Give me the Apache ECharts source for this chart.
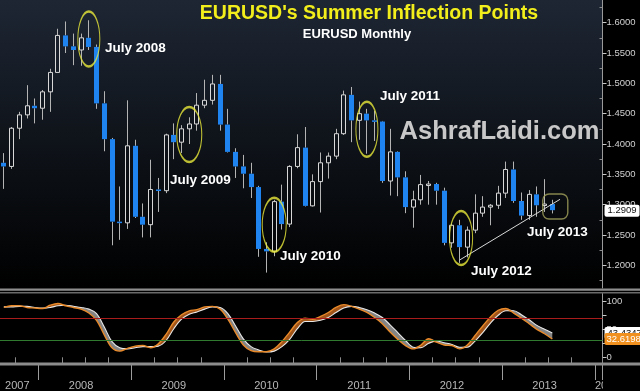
<!DOCTYPE html>
<html><head><meta charset="utf-8">
<script src="https://cdn.jsdelivr.net/npm/echarts@6.0.0/dist/echarts.min.js"></script>
<style>html,body{margin:0;padding:0;background:#000;}#chart{width:640px;height:391px;}</style>
</head><body><div id="chart"></div>
<script>
// ---------- DATA ----------
// Monthly categories: Aug 2007 .. Jan 2014 (last months blank)
const months = [];
(function(){ let y = 2007, m = 8; while (months.length < 78) { months.push(y + '-' + String(m).padStart(2,'0')); m++; if (m > 12) { m = 1; y++; } } })();

// EURUSD monthly OHLC, Aug 2007 .. Jul 2013
const open  = [1.3690,1.3630,1.4260,1.4480,1.4630, 1.4590,1.4860,1.5180,1.5790,1.5610,1.5550,1.5750,1.5600,1.4670,1.4080,1.2720,1.2700,
               1.3970,1.2800,1.2670,1.3250,1.3230,1.4150,1.4030,1.4250,1.4330,1.4640,1.4720,1.4990,
               1.4320,1.3870,1.3630,1.3510,1.3290,1.2270,1.2230,1.3050,1.2680,1.3630,1.3940,1.2980,
               1.3380,1.3690,1.3800,1.4170,1.4810,1.4390,1.4500,1.4390,1.4370,1.3390,1.3870,1.3450,
               1.2960,1.3080,1.3330,1.3340,1.3230,1.2370,1.2660,1.2300,1.2580,1.2860,1.2960,1.2990,
               1.3190,1.3580,1.3060,1.2820,1.3170,1.2990,1.3010];
const high  = [1.3850,1.4280,1.4530,1.4970,1.4750, 1.4890,1.5240,1.5900,1.6020,1.5820,1.5820,1.6040,1.5640,1.4870,1.4100,1.3300,1.4720,
               1.4070,1.3020,1.3740,1.3440,1.4170,1.4340,1.4310,1.4440,1.4840,1.5060,1.5140,1.5140,
               1.4580,1.3930,1.3820,1.3690,1.3310,1.2380,1.3080,1.3330,1.3650,1.4160,1.4280,1.3500,
               1.3860,1.3860,1.4250,1.4880,1.4940,1.4700,1.4580,1.4550,1.4380,1.4250,1.3880,1.3550,
               1.3230,1.3490,1.3390,1.3360,1.3280,1.2690,1.2750,1.2640,1.3170,1.3140,1.3010,1.3310,
               1.3710,1.3710,1.3200,1.3240,1.3300,1.3420,1.3080];
const low   = [1.3260,1.3590,1.4080,1.4420,1.4340, 1.4400,1.4530,1.5180,1.5500,1.5300,1.5290,1.5550,1.4580,1.3880,1.2330,1.2420,1.2600,
               1.2780,1.2460,1.2460,1.2880,1.3190,1.3750,1.3850,1.4000,1.4220,1.4590,1.4650,1.4220,
               1.3860,1.3440,1.3270,1.3110,1.2140,1.1880,1.2150,1.2590,1.2630,1.3600,1.2970,1.2970,
               1.2870,1.3430,1.3750,1.4150,1.4030,1.4070,1.3840,1.4050,1.3360,1.3150,1.3140,1.2860,
               1.2620,1.3000,1.3000,1.3000,1.2330,1.2290,1.2040,1.2130,1.2530,1.2800,1.2660,1.2930,
               1.3110,1.3030,1.2750,1.2750,1.2800,1.2880,1.2855];
const close = [1.3630,1.4260,1.4480,1.4630,1.4590, 1.4860,1.5180,1.5790,1.5610,1.5550,1.5750,1.5600,1.4670,1.4080,1.2720,1.2700,1.3970,
               1.2800,1.2670,1.3250,1.3230,1.4150,1.4030,1.4250,1.4330,1.4640,1.4720,1.4990,1.4320,
               1.3870,1.3630,1.3510,1.3290,1.2270,1.2230,1.3050,1.2680,1.3630,1.3940,1.2980,1.3380,
               1.3690,1.3800,1.4170,1.4810,1.4390,1.4500,1.4390,1.4370,1.3390,1.3870,1.3450,1.2960,
               1.3080,1.3330,1.3340,1.3230,1.2370,1.2660,1.2300,1.2580,1.2860,1.2960,1.2990,1.3190,
               1.3580,1.3060,1.2820,1.3170,1.2990,1.3010,1.2909];
const lastPrice = 1.2909;

// Stochastic oscillator (fast = orange, slow = white)
const stochK = [89,92,92,89,88,87,93,96,92,89, 86,79,66,40,17,11,16,20,21,17, 24,41,63,76,83,85,90,91,86,68,
                44,22,12,10,10,15,28,45,62,70, 68,73,80,89,94,91,86,80,71,60, 45,32,21,15,22,33,27,22,21,15,
                22,39,56,72,84,87,79,70,60,50, 42,32.6198];
const stochD = [90,90,91,91,89,88,89,92,93,91, 89,86,78,54,28,17,15,17,19,19, 20,30,51,68,77,81,86,90,89,78,
                56,33,19,13,9.5,11,19,32,51,64, 64,66,71,80,88,91,89,85,79,71, 58,44,30,18,17,25,29,26,23,18,
                18,29,44,61,75,83,83,76,67,57, 50,43.4347];
const stochLevels = [70, 30];

// Axis ticks / labels
const priceTicks = [1.20,1.25,1.30,1.35,1.40,1.45,1.50,1.55,1.60];
const priceMinorTicks = [1.175,1.225,1.275,1.325,1.375,1.425,1.475,1.525,1.575,1.625];
const stochTicks = [0,25,50,75,100];
const stochLabels = [0,50,100];
const yearLabels = ['2007','2008','2009','2010','2011','2012','2013','2014'];
const yearLabelCats = ['2007-10','2008-06','2009-06','2010-06','2011-06','2012-06','2013-06','2014-01'];

// Annotations (ellipses around July candles)
const ellipseCats = ['2008-07','2009-08','2010-07','2011-07','2012-07'];
const ellipsePrices = [1.5731,1.4157,1.2669,1.4244,1.2450];
const ellipseSizes = [[22,55],[25,55],[24,54],[22,55],[23,54]];
const trendCats = ['2012-07','2013-08'];
const trendPrices = [1.2087,1.3088];
const boxCat = '2013-07', boxPrice = 1.2969;

// ---------- CHART ----------
const chart = echarts.init(document.getElementById('chart'), null, {renderer:'canvas'});
const candleData = open.map((o,i)=>[i, o, close[i], low[i], high[i]]);
const bandBase = stochK.map((k,i)=>Math.min(k, stochD[i]));
const bandUp = stochK.map((k,i)=>Math.max(k - stochD[i], 0));
const bandDown = stochK.map((k,i)=>Math.max(stochD[i] - k, 0));

function renderCandle(params, api){
  const i = api.value(0);
  const o = api.value(1), c = api.value(2), l = api.value(3), h = api.value(4);
  const pO = api.coord([i,o]), pC = api.coord([i,c]), pL = api.coord([i,l]), pH = api.coord([i,h]);
  const n = Math.round(pO[0] - 0.5);
  const cx = n + 0.5;
  const top = Math.min(pO[1], pC[1]);
  const hgt = Math.max(Math.abs(pO[1]-pC[1]), 1.5);
  const up = c >= o;
  const wick = '#b4b4b4';
  return {type:'group', children:[
    {type:'line', shape:{x1:cx,y1:pH[1],x2:cx,y2:top}, style:{stroke:wick,lineWidth:1}},
    {type:'line', shape:{x1:cx,y1:top+hgt,x2:cx,y2:pL[1]}, style:{stroke:wick,lineWidth:1}},
    up ? {type:'rect', shape:{x:n-1.5,y:top,width:4,height:hgt}, style:{fill:'rgba(0,0,0,0)',stroke:'#d8d8d8',lineWidth:1}}
       : {type:'rect', shape:{x:n-2,y:top,width:5,height:hgt}, style:{fill:'#1f84f0'}}
  ]};
}

const FONT = '"Liberation Sans", Arial, sans-serif';
const NARROW = '"Liberation Sans Narrow", "Liberation Sans", Arial, sans-serif';
const option = {
  backgroundColor:'#000',
  animation:false,
  grid:[
    {left:0, top:0, width:602.5, height:288, show:true, borderWidth:0,
     backgroundColor:{type:'linear',x:0,y:0,x2:0,y2:1,colorStops:[{offset:0,color:'#1e2634'},{offset:0.45,color:'#10151c'},{offset:1,color:'#000000'}]}},
    {left:0, top:293.5, width:602.5, height:70.5, show:true, borderWidth:0, backgroundColor:'#000'}
  ],
  xAxis:[
    {type:'category', gridIndex:0, data:months, boundaryGap:true, show:false},
    {type:'category', gridIndex:1, data:months, boundaryGap:true, position:'bottom',
     axisLine:{show:false},
     axisTick:{show:true, length:6, interval:(i,v)=>['04','07','10'].includes(v.slice(5)), lineStyle:{color:'#8a8a8a'}},
     axisLabel:{show:false}},
    {type:'category', gridIndex:1, data:months, boundaryGap:true, position:'bottom',
     axisLine:{show:false},
     axisTick:{show:true, length:16, interval:(i,v)=>v.slice(5)==='01', lineStyle:{color:'#9c9c9c'}},
     axisLabel:{show:true, interval:(i,v)=>yearLabelCats.includes(v), margin:16, color:'#b8b8b8', fontSize:11, fontFamily:NARROW,
       formatter:(v)=>{const k=yearLabelCats.indexOf(v); if(k<0) return ''; if(v==='2007-10') return '{a|'+yearLabels[k]+'}'; if(v==='2014-01') return '{b|'+yearLabels[k]+'}'; return yearLabels[k];},
       rich:{a:{padding:[0,4,0,0],color:'#b8b8b8',fontSize:11,fontFamily:NARROW},
             b:{padding:[0,0,0,17],color:'#b8b8b8',fontSize:11,fontFamily:NARROW}}}}
  ],
  yAxis:[
    {type:'value', gridIndex:0, position:'right', min:1.1626, max:1.6374, splitLine:{show:false},
     axisLine:{show:true, lineStyle:{color:'#9a9a9a'}},
     axisTick:{show:true, length:4, customValues:priceTicks, lineStyle:{color:'#c8c8c8'}},
     axisLabel:{show:true, customValues:priceTicks, margin:4, color:'#d0d0d0', fontSize:9.5, fontFamily:FONT, formatter:(v)=>v.toFixed(4)}},
    {type:'value', gridIndex:0, position:'right', min:1.1626, max:1.6374, splitLine:{show:false},
     axisLine:{show:false},
     axisTick:{show:true, inside:true, length:3, customValues:priceMinorTicks, lineStyle:{color:'#8a8a8a'}},
     axisLabel:{show:false}},
    {type:'value', gridIndex:1, position:'right', min:-11.96, max:113.9, splitLine:{show:false},
     axisLine:{show:true, lineStyle:{color:'#9a9a9a'}},
     axisTick:{show:true, length:4, customValues:stochTicks, lineStyle:{color:'#c8c8c8'}},
     axisLabel:{show:true, customValues:stochLabels, margin:4, color:'#d0d0d0', fontSize:9.5, fontFamily:FONT}}
  ],
  series:[
    {type:'custom', name:'EURUSD', xAxisIndex:0, yAxisIndex:0, renderItem:renderCandle, data:candleData,
     encode:{x:0, y:[1,2,3,4]}, clip:true, z:3},
    {type:'scatter', name:'circles', xAxisIndex:0, yAxisIndex:0, z:5, silent:true,
     data:ellipseCats.map((c,i)=>({value:[c, ellipsePrices[i]], symbolSize:ellipseSizes[i], symbolOffset:[i===4?1.5:0,0]})),
     symbol:'circle', itemStyle:{color:'rgba(0,0,0,0)', borderColor:'#e8e83a', borderWidth:1.6}},
    {type:'scatter', name:'box', xAxisIndex:0, yAxisIndex:0, z:5, silent:true,
     data:[{value:[boxCat, boxPrice]}], symbol:'roundRect', symbolSize:[25,25], symbolOffset:[3,0],
     itemStyle:{color:'rgba(0,0,0,0)', borderColor:'#a4a45c', borderWidth:1.4}},
    {type:'line', name:'trend', xAxisIndex:0, yAxisIndex:0, z:4, silent:true, symbol:'none',
     data:trendCats.map((c,i)=>[c, trendPrices[i]]), lineStyle:{color:'#d8d8d8', width:1},
     markLine:{silent:true, symbol:'none', data:[{yAxis:lastPrice}], lineStyle:{color:'rgba(0,0,0,0)', width:0},
       label:{show:true, position:'end', distance:2, formatter:lastPrice.toFixed(4), backgroundColor:'#ffffff', color:'#111',
              fontSize:9.5, fontFamily:FONT, padding:[1,3,1,3], borderRadius:2}}},
    {type:'line', name:'base', xAxisIndex:1, yAxisIndex:2, stack:'band', data:bandBase, symbol:'none', smooth:0.35,
     lineStyle:{opacity:0}, z:1,
     markLine:{silent:true, symbol:'none', label:{show:false},
       data:[{yAxis:stochLevels[0], lineStyle:{color:'#a81c1c', width:1, type:'solid'}},
             {yAxis:stochLevels[1], lineStyle:{color:'#2f7a2f', width:1, type:'solid'}}]}},
    {type:'line', name:'up', xAxisIndex:1, yAxisIndex:2, stack:'band', data:bandUp, symbol:'none', smooth:0.35,
     lineStyle:{opacity:0}, areaStyle:{color:'#b25e1c', opacity:0.9}, z:2},
    {type:'line', name:'down', xAxisIndex:1, yAxisIndex:2, stack:'band', data:bandDown, symbol:'none', smooth:0.35,
     lineStyle:{opacity:0}, areaStyle:{color:'#929292', opacity:0.9}, z:2},
    {type:'line', name:'slow', xAxisIndex:1, yAxisIndex:2, data:stochD, symbol:'none', smooth:0.35, z:3,
     lineStyle:{color:'#e8e8e8', width:1.1},
     markLine:{silent:true, symbol:'none', data:[{yAxis:stochD[stochD.length-1]}], lineStyle:{color:'rgba(0,0,0,0)', width:0},
       label:{show:true, position:'end', distance:2, formatter:stochD[stochD.length-1].toFixed(4), backgroundColor:'#ffffff', color:'#111',
              fontSize:9.5, fontFamily:FONT, padding:[1,3,1,3], borderRadius:2}}},
    {type:'line', name:'fast', xAxisIndex:1, yAxisIndex:2, data:stochK, symbol:'none', smooth:0.35, z:4,
     lineStyle:{color:'#e8892a', width:1.4},
     markLine:{silent:true, symbol:'none', data:[{yAxis:stochK[stochK.length-1]}], lineStyle:{color:'rgba(0,0,0,0)', width:0},
       label:{show:true, position:'end', distance:2, formatter:stochK[stochK.length-1].toFixed(4), backgroundColor:'#f0901e', color:'#ffffff',
              fontSize:9.5, fontFamily:FONT, padding:[1,2,1,2], borderRadius:2}}}
  ],
  graphic:[
    {type:'rect', z:100, shape:{x:0,y:288.5,width:640,height:2.2}, style:{fill:'#8e8e8e'}},
    {type:'rect', z:100, shape:{x:0,y:292,width:640,height:1.6}, style:{fill:'#6a6a6a'}},
    {type:'rect', z:100, shape:{x:0,y:362.5,width:640,height:3}, style:{fill:'#8c8c8c'}},
    {type:'rect', z:100, shape:{x:603,y:368,width:37,height:23}, style:{fill:'#000'}},
    {type:'text', z:100, x:369, y:14, style:{text:"EURUSD's Summer Inflection Points", fill:'#f2ee1c', font:'bold 19.5px '+FONT, align:'center', verticalAlign:'middle'}},
    {type:'text', z:100, x:357, y:34, style:{text:'EURUSD Monthly', fill:'#ffffff', font:'bold 13px '+FONT, align:'center', verticalAlign:'middle'}},
    {type:'text', z:100, x:499.5, y:132, style:{text:'AshrafLaidi.com', fill:'#c8c8c8', font:'bold 25.5px '+FONT, align:'center', verticalAlign:'middle'}},
    {type:'text', z:100, x:105, y:48, style:{text:'July 2008', fill:'#ffffff', font:'bold 13.5px '+FONT, align:'left', verticalAlign:'middle'}},
    {type:'text', z:100, x:170, y:180, style:{text:'July 2009', fill:'#ffffff', font:'bold 13.5px '+FONT, align:'left', verticalAlign:'middle'}},
    {type:'text', z:100, x:280, y:256, style:{text:'July 2010', fill:'#ffffff', font:'bold 13.5px '+FONT, align:'left', verticalAlign:'middle'}},
    {type:'text', z:100, x:380, y:96, style:{text:'July 2011', fill:'#ffffff', font:'bold 13.5px '+FONT, align:'left', verticalAlign:'middle'}},
    {type:'text', z:100, x:471, y:271, style:{text:'July 2012', fill:'#ffffff', font:'bold 13.5px '+FONT, align:'left', verticalAlign:'middle'}},
    {type:'text', z:100, x:527, y:232, style:{text:'July 2013', fill:'#ffffff', font:'bold 13.5px '+FONT, align:'left', verticalAlign:'middle'}}
  ]
};
chart.setOption(option);
</script></body></html>
